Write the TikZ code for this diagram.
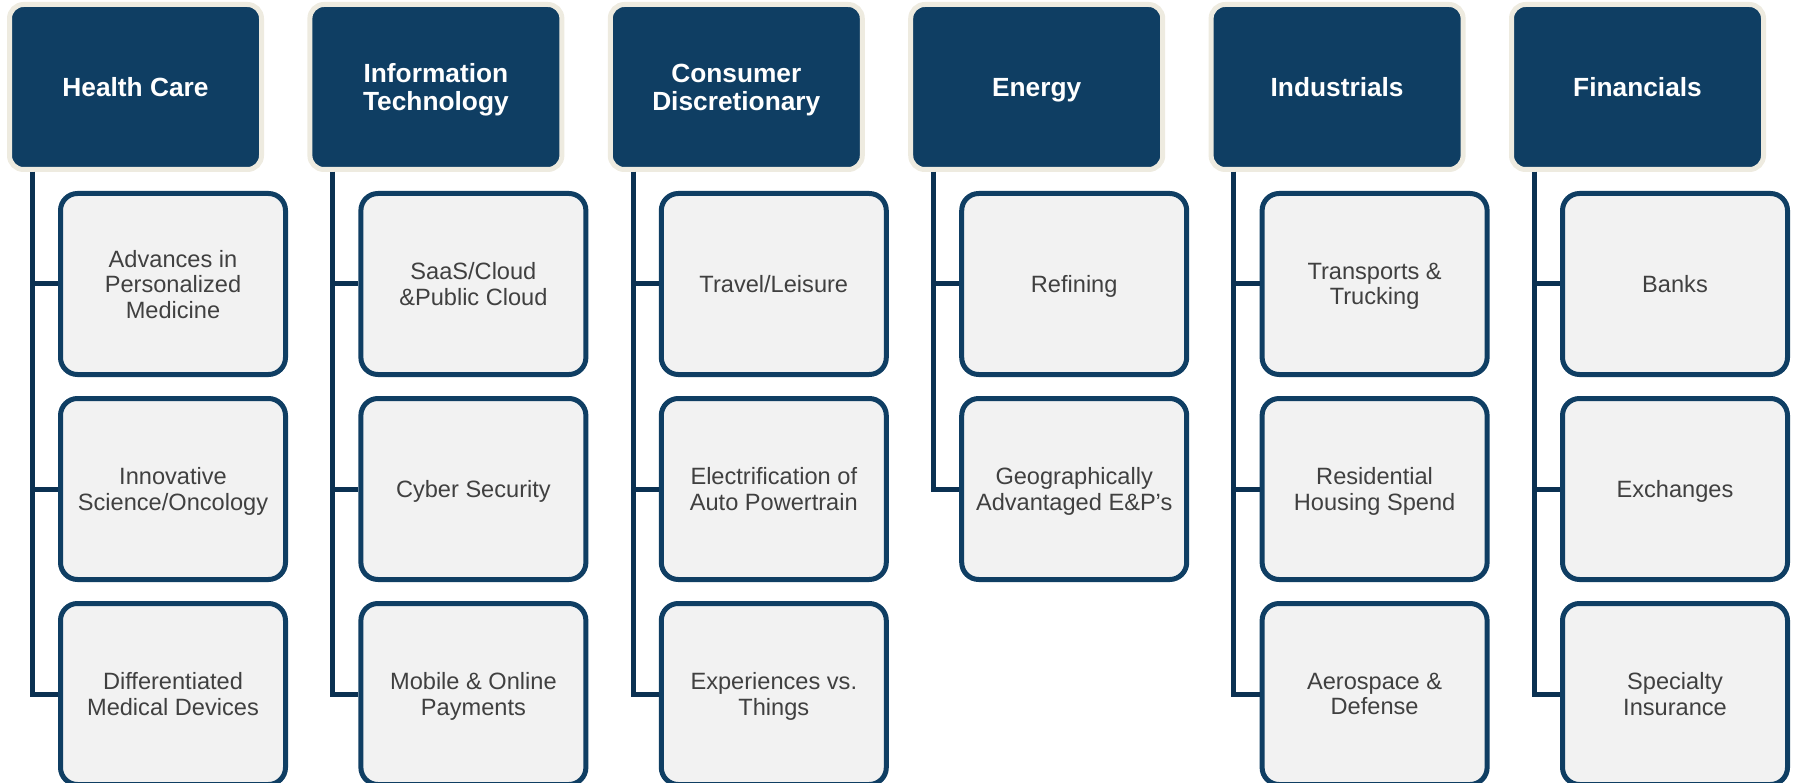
\documentclass[tikz,border=0pt]{standalone}
\usepackage{fontspec}
\setmainfont{Liberation Sans}
\usepackage{tikz}
\usetikzlibrary{positioning}

\definecolor{navy}{HTML}{0F3E63}
\definecolor{navyline}{HTML}{0B3152}
\definecolor{cream}{HTML}{EEEBE0}
\definecolor{paper}{HTML}{F2F2F2}
\definecolor{ink}{HTML}{404040}

\tikzset{
  sector/.style={draw=cream, fill=navy, line width=5pt, rounded corners=14pt,
    minimum width=252pt, minimum height=165pt, inner sep=0pt, align=center,
    text=white, font=\fontsize{26.3}{28}\selectfont\bfseries,
    execute at begin node=\strut, text depth=0pt},
  theme/.style={draw=navy, fill=paper, line width=5pt, rounded corners=17pt,
    minimum width=225pt, minimum height=181pt, inner sep=0pt, align=center,
    text=ink, font=\fontsize{23.6}{25.5}\selectfont,
    execute at begin node=\strut, text depth=0pt},
  link/.style={draw=navyline, line width=5pt}
}

\begin{document}
\begin{tikzpicture}[x=1pt, y=-1pt]
\useasboundingbox (0,0) rectangle (1793,783);

% Health Care
\node[sector] (hc) at (135.5,87) {Health Care};
\node[theme] (hc1) at (173,284) {Advances in\\Personalized\\Medicine};
\node[theme] (hc2) at (173,489) {Innovative\\Science/Oncology};
\node[theme] (hc3) at (173,694) {Differentiated\\Medical Devices};

\draw[link] ([xshift=25.3pt]hc.south west) |- (hc1.west);
\draw[link] ([xshift=25.3pt]hc.south west) |- (hc2.west);
\draw[link] ([xshift=25.3pt]hc.south west) |- (hc3.west);

% Information Technology
\node[sector] (it) at (435.9,87) {Information\\Technology};
\node[theme] (it1) at (473.4,284) {SaaS/Cloud\\\&Public Cloud};
\node[theme] (it2) at (473.4,489) {Cyber Security};
\node[theme] (it3) at (473.4,694) {Mobile \& Online\\Payments};

\draw[link] ([xshift=25.3pt]it.south west) |- (it1.west);
\draw[link] ([xshift=25.3pt]it.south west) |- (it2.west);
\draw[link] ([xshift=25.3pt]it.south west) |- (it3.west);

% Consumer Discretionary
\node[sector] (cd) at (736.3,87) {Consumer\\Discretionary};
\node[theme] (cd1) at (773.8,284) {Travel/Leisure};
\node[theme] (cd2) at (773.8,489) {Electrification of\\Auto Powertrain};
\node[theme] (cd3) at (773.8,694) {Experiences vs.\\Things};

\draw[link] ([xshift=25.3pt]cd.south west) |- (cd1.west);
\draw[link] ([xshift=25.3pt]cd.south west) |- (cd2.west);
\draw[link] ([xshift=25.3pt]cd.south west) |- (cd3.west);

% Energy
\node[sector] (en) at (1036.7,87) {Energy};
\node[theme] (en1) at (1074.2,284) {Refining};
\node[theme] (en2) at (1074.2,489) {Geographically\\Advantaged E\&P’s};

\draw[link] ([xshift=25.3pt]en.south west) |- (en1.west);
\draw[link] ([xshift=25.3pt]en.south west) |- (en2.west);

% Industrials
\node[sector] (ind) at (1337.1,87) {Industrials};
\node[theme] (ind1) at (1374.6,284) {Transports \&\\Trucking};
\node[theme] (ind2) at (1374.6,489) {Residential\\Housing Spend};
\node[theme] (ind3) at (1374.6,694) {Aerospace \&\\Defense};

\draw[link] ([xshift=25.3pt]ind.south west) |- (ind1.west);
\draw[link] ([xshift=25.3pt]ind.south west) |- (ind2.west);
\draw[link] ([xshift=25.3pt]ind.south west) |- (ind3.west);

% Financials
\node[sector] (fin) at (1637.5,87) {Financials};
\node[theme] (fin1) at (1675,284) {Banks};
\node[theme] (fin2) at (1675,489) {Exchanges};
\node[theme] (fin3) at (1675,694) {Specialty\\Insurance};

\draw[link] ([xshift=25.3pt]fin.south west) |- (fin1.west);
\draw[link] ([xshift=25.3pt]fin.south west) |- (fin2.west);
\draw[link] ([xshift=25.3pt]fin.south west) |- (fin3.west);

\end{tikzpicture}
\end{document}
